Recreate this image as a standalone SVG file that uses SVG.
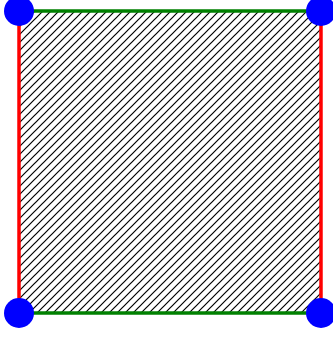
<svg xmlns="http://www.w3.org/2000/svg" width="333" height="337" viewBox="0 0 333 337">
  <defs>
    <pattern id="hatch" patternUnits="userSpaceOnUse" x="19" y="11" width="8" height="8">
      <path d="M0,8 L8,0 M-1,1 L1,-1 M7,9 L9,7" stroke="#000" stroke-width="1.2" fill="none"/>
    </pattern>
    <style>
      .v { stroke: #ff0000; stroke-width: 3.5; }
      .h { stroke: #008000; stroke-width: 3.5; }
      .pt { fill: #0000ff; }
    </style>
  </defs>
  <rect id="face" x="19" y="11" width="302" height="302" fill="url(#hatch)"/>
  <g id="connectors">
    <line class="h" x1="19" y1="11" x2="321" y2="11"/>
    <line class="h" x1="19" y1="313" x2="321" y2="313"/>
    <line class="v" x1="19" y1="11" x2="19" y2="313"/>
    <line class="v" x1="321" y1="11" x2="321" y2="313"/>
  </g>
  <g id="p1"><circle class="pt" cx="19" cy="11" r="15"/></g>
  <g id="p2"><circle class="pt" cx="321" cy="11" r="15"/></g>
  <g id="p3"><circle class="pt" cx="19" cy="313" r="15"/></g>
  <g id="p4"><circle class="pt" cx="321" cy="313" r="15"/></g>
</svg>
